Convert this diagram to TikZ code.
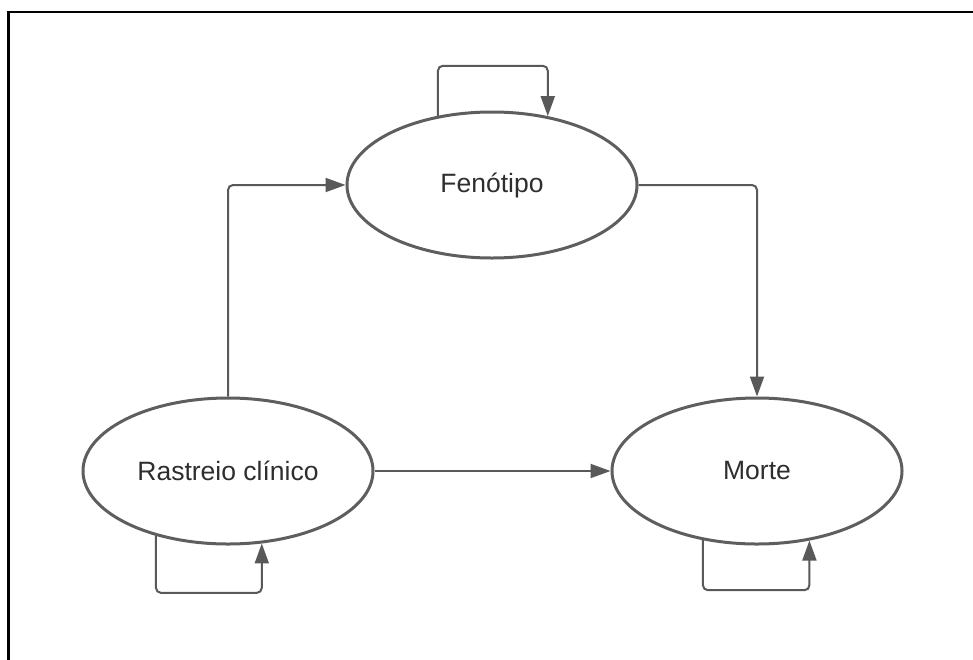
\documentclass[tikz,border=0pt]{standalone}
\usepackage{fontspec}
\setmainfont{Liberation Sans}
\usetikzlibrary{shapes.geometric,arrows.meta}

\definecolor{edgegray}{HTML}{5E5E5E}
\definecolor{linegray}{HTML}{595959}
\definecolor{textgray}{HTML}{2E2E2E}

\tikzset{
  state/.style={ellipse, draw=edgegray, line width=3pt, fill=white,
    minimum width=290pt, minimum height=146pt, inner sep=0pt,
    text=textgray, font=\fontsize{26.5}{31}\selectfont},
  conn/.style={draw=linegray, line width=2pt, rounded corners=5pt,
    -{Triangle[length=20pt,width=14pt]}},
  frame/.style={draw=black, line width=2.6pt}
}

\begin{document}
\begin{tikzpicture}[x=1pt,y=-1pt]
  \useasboundingbox (0,0) rectangle (973,659);
  \fill[white] (0,0) rectangle (973,659);

  % outer frame (top and left edges)
  \draw[frame] (8.5,700) -- (8.5,12) -- (1000,12);

  % states
  \node[state] (pheno)  at (492,185) {Fenótipo};
  \node[state] (screen) at (228,471) {Rastreio clínico};
  \node[state] (death)  at (757,471) {Morte};

  % transitions between states
  \draw[conn] (screen.north) |- (pheno.west);
  \draw[conn] (pheno.east) -| (death.north);
  \draw[conn] (screen.east) -- (death.west);

  % self transitions
  \draw[conn] (pheno.128.6) -- ++(0,-50) -| (pheno.51.9);
  \draw[conn] (screen.222.9) -- ++(0,57) -| (screen.295.6);
  \draw[conn] (death.232.6) -- ++(0,50) -| (death.307.4);
\end{tikzpicture}
\end{document}
